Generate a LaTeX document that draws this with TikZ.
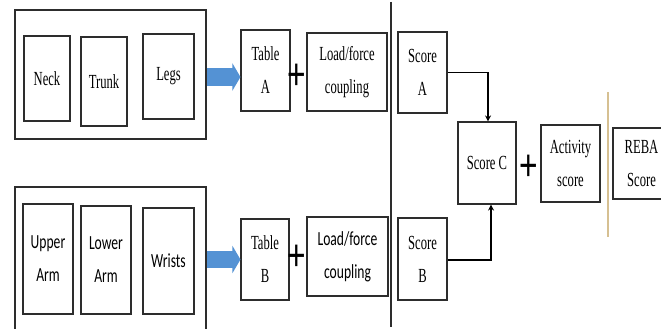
\documentclass[tikz,border=0pt]{standalone}
\usepackage{fontspec}
\setmainfont{Liberation Serif}[FakeStretch=0.63]
\newfontfamily\sansnarrow{Carlito}[FakeStretch=0.68]
\newfontfamily\plusfont{Liberation Sans}[FakeStretch=0.72]
\usetikzlibrary{arrows.meta}
\definecolor{boxline}{RGB}{45,45,45}
\definecolor{arrowblue}{RGB}{84,146,212}
\definecolor{tanline}{RGB}{214,192,146}
\tikzset{
  part/.style={draw=boxline, line width=1.1pt, inner sep=0pt, align=center,
     font={\fontsize{20}{33}\selectfont}},
  sanspart/.style={part, font={\sansnarrow\fontsize{20}{33}\selectfont}},
  group/.style={draw=boxline, line width=1.3pt, inner sep=0pt},
  plussign/.style={inner sep=0pt, font={\plusfont\fontsize{44}{44}\selectfont}},
  bigarrow/.style={arrowblue, line width=17pt, -{Triangle[length=8pt,width=27pt]}},
  link/.style={black, line width=1.8pt, -{Stealth[length=6pt,width=6pt]}},
  divider/.style={draw=boxline, line width=1.4pt},
  tandivider/.style={draw=tanline, line width=1.4pt}
}
\begin{document}
\begin{tikzpicture}[x=1pt,y=-1pt]
\useasboundingbox (0,0) rectangle (661,329);
\clip (0,0) rectangle (661,329);
\fill[white] (0,0) rectangle (661,329);
% top group
\node[group, minimum width=191pt, minimum height=129pt] (topgroup) at (110.5,74.5) {};
\node[part, minimum width=46pt, minimum height=85pt] (neck) at (47,78.5) {Neck};
\node[part, minimum width=46pt, minimum height=89pt] (trunk) at (104,81.5) {Trunk};
\node[part, minimum width=51pt, minimum height=85pt] (legs) at (168.5,76.5) {Legs};
\node[part, minimum width=49pt, minimum height=81pt] (tableA) at (265.5,70.5) {Table\\A};
\node[plussign] (plusA) at (297,77) {+};
\node[part, minimum width=80pt, minimum height=78pt] (loadA) at (347,72) {Load/force\\coupling};
% bottom group
\node[group, minimum width=191pt, minimum height=150pt] (botgroup) at (110.5,262) {};
\node[sanspart, minimum width=50pt, minimum height=110pt] (upper) at (48,259) {Upper\\Arm};
\node[sanspart, minimum width=50pt, minimum height=108pt] (lower) at (106,260) {Lower\\Arm};
\node[sanspart, minimum width=51pt, minimum height=106pt] (wrists) at (168.5,261) {Wrists};
\node[part, minimum width=48pt, minimum height=81pt] (tableB) at (265,259.5) {Table\\B};
\node[plussign] (plusB) at (297,258) {+};
\node[sanspart, minimum width=81pt, minimum height=79pt] (loadB) at (347.5,256.5) {Load/force\\coupling};
% divider
\coordinate (divtop) at (391,2);
\coordinate (divbot) at (391,327);
\draw[divider] (divtop) -- (divbot);
% scores
\node[part, minimum width=49pt, minimum height=81pt] (scoreA) at (422.5,72.5) {Score\\A};
\node[part, minimum width=49pt, minimum height=82pt] (scoreB) at (422.5,259) {Score\\B};
\node[part, minimum width=58pt, minimum height=82pt] (scoreC) at (487,163) {Score C};
\node[plussign] (plusC) at (529,168) {+};
\node[part, minimum width=59pt, minimum height=77pt] (activity) at (570.5,163.5) {Activity\\score};
\coordinate (tantop) at (608,92);
\coordinate (tanbot) at (608,237);
\draw[tandivider] (tantop) -- (tanbot);
\node[part, minimum width=57pt, minimum height=71pt] (reba) at (641.5,163.5) {REBA\\Score};
% arrows
\draw[bigarrow] (topgroup.east |- plusA) -- (tableA.west |- plusA);
\draw[bigarrow] (botgroup.east |- tableB.west) -- (tableB.west);
\draw[link] (scoreA.east) -| ([xshift=1pt]scoreC.north);
\draw[link] ([yshift=-1pt]scoreB.east) -| ([xshift=4pt]scoreC.south);
\end{tikzpicture}
\end{document}
